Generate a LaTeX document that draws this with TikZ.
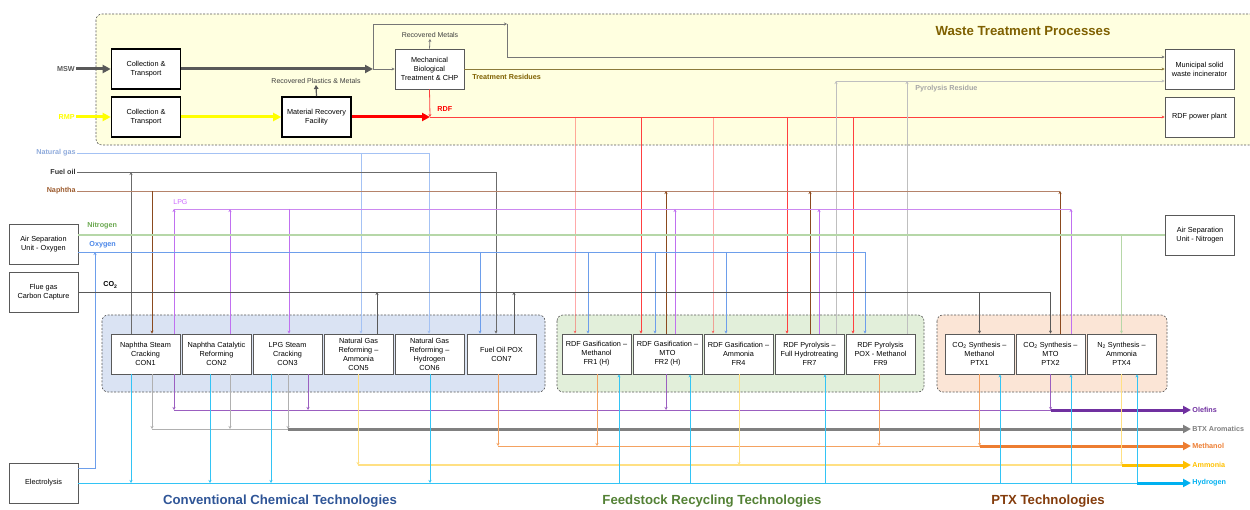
\documentclass[tikz,border=0pt]{standalone}
\usepackage{fontspec}
\setmainfont{Liberation Sans}
\usetikzlibrary{calc}
\usetikzlibrary{arrows.meta}

\definecolor{wtpfill}{HTML}{FFFFE0}
\definecolor{ccfill}{HTML}{DAE3F3}
\definecolor{frfill}{HTML}{E2EFDA}
\definecolor{ptxfill}{HTML}{FBE5D6}
\definecolor{grpline}{HTML}{595959}
\definecolor{boxline}{HTML}{595959}
\definecolor{notec}{HTML}{404040}
\definecolor{mswc}{HTML}{595959}
\definecolor{rmpc}{HTML}{FFFF00}
\definecolor{rdfc}{HTML}{FF0000}
\definecolor{rdfl}{HTML}{FF4040}
\definecolor{resc}{HTML}{7F6000}
\definecolor{resl}{HTML}{8C7B3A}
\definecolor{pyrc}{HTML}{BFBFBF}
\definecolor{pyrt}{HTML}{A6A6A6}
\definecolor{metc}{HTML}{767676}
\definecolor{ngc}{HTML}{A4C2F4}
\definecolor{ngt}{HTML}{8EAADB}
\definecolor{foc}{HTML}{6B6B6B}
\definecolor{napl}{HTML}{B5836A}
\definecolor{napc}{HTML}{8B4A1E}
\definecolor{napt}{HTML}{9C5B2E}
\definecolor{lpgl}{HTML}{CC88F0}
\definecolor{lpgc}{HTML}{C070F0}
\definecolor{lpgt}{HTML}{CC66FF}
\definecolor{n2c}{HTML}{B6D7A8}
\definecolor{n2t}{HTML}{6AA84F}
\definecolor{o2c}{HTML}{6D9EEB}
\definecolor{o2t}{HTML}{4A86E8}
\definecolor{co2c}{HTML}{595959}
\definecolor{olec}{HTML}{7030A0}
\definecolor{olel}{HTML}{9B5FC0}
\definecolor{btxc}{HTML}{808080}
\definecolor{btxl}{HTML}{B0B0B0}
\definecolor{meohc}{HTML}{ED7D31}
\definecolor{meohl}{HTML}{F4A261}
\definecolor{nh3c}{HTML}{FFC000}
\definecolor{nh3l}{HTML}{FFE083}
\definecolor{h2c}{HTML}{00B0F0}
\definecolor{h2l}{HTML}{33C4F5}
\definecolor{cctitle}{HTML}{2F5597}
\definecolor{frtitle}{HTML}{538135}
\definecolor{ptxtitle}{HTML}{843C0C}

\begin{document}
\begin{tikzpicture}[x=1pt,y=-1pt,line width=0.8pt,
    box/.style={draw=boxline,line width=0.9pt,fill=white,minimum width=69pt,
      minimum height=40pt,inner sep=1pt,align=center,font=\fontsize{7.3}{9}\selectfont},
    heavybox/.style={box,draw=black,line width=1.6pt},
    lightbox/.style={box,line width=0.7pt},
    grp/.style={draw=grpline,dash pattern=on 2pt off 1.5pt,line width=0.6pt,rounded corners=6pt},
    lbl/.style={inner sep=1pt,font=\fontsize{7.2}{8}\selectfont\bfseries},
    note/.style={inner sep=1pt,text=notec,font=\fontsize{7}{8}\selectfont},
    title/.style={inner sep=0pt,font=\fontsize{13.2}{15}\selectfont\bfseries},
    arr/.style={-{Stealth[length=3pt,width=3pt]}},
    fat/.style={line width=3pt,-{Triangle[length=8pt,width=8pt]}}]
    \useasboundingbox (0,0) rectangle (1250,510);

    % groups
    \draw[grp,fill=wtpfill] (96,14) rectangle (1262,145);
    \draw[grp,fill=ccfill] (102,315) rectangle (545,392);
    \draw[grp,fill=frfill] (557,315) rectangle (924,392);
    \draw[grp,fill=ptxfill] (937,315) rectangle (1167,392);

    \node[title,text=resc] (wtpt) at (1023,31) {Waste Treatment Processes};
    \node[title,text=cctitle] (cct) at (280,501) {Conventional Chemical Technologies};
    \node[title,text=frtitle] (frt) at (712,501) {Feedstock Recycling Technologies};
    \node[title,text=ptxtitle] (ptxt) at (1048,501) {PTX Technologies};

    % waste treatment boxes
    \node[heavybox] (col1) at (146,69) {Collection \&\\Transport};
    \node[heavybox] (col2) at (146,117) {Collection \&\\Transport};
    \node[heavybox] (mrf) at (316.5,117) {Material Recovery\\Facility};
    \node[lightbox] (mbt) at (429.5,69) {Mechanical\\Biological\\Treatment \& CHP};
    \node[lightbox] (mswi) at (1199.5,69) {Municipal solid\\waste incinerator};
    \node[lightbox] (rdfpp) at (1199.5,117) {RDF power plant};

    % utilities
    \node[lightbox] (asuo) at (43.5,244) {Air Separation\\Unit - Oxygen};
    \node[lightbox] (flue) at (43.5,292) {Flue gas\\Carbon Capture};
    \node[lightbox] (elec) at (43.5,483) {Electrolysis};
    \node[lightbox] (asun) at (1200,235) {Air Separation\\Unit - Nitrogen};

    % technologies
    \node[box] (con1) at (145.5,354) {Naphtha Steam\\Cracking\\CON1};
    \node[box] (con2) at (216.5,354) {Naphtha Catalytic\\Reforming\\CON2};
    \node[box] (con3) at (287.5,354) {LPG Steam\\Cracking\\CON3};
    \node[box] (con5) at (358.5,354) {Natural Gas\\Reforming --\\Ammonia\\CON5};
    \node[box] (con6) at (429.5,354) {Natural Gas\\Reforming --\\Hydrogen\\CON6};
    \node[box] (con7) at (501.5,354) {Fuel Oil POX\\CON7};
    \node[box] (fr1) at (596.5,354) {RDF Gasification --\\Methanol\\FR1 (H)};
    \node[box] (fr2) at (667.5,354) {RDF Gasification --\\MTO\\FR2 (H)};
    \node[box] (fr4) at (738.5,354) {RDF Gasification --\\Ammonia\\FR4};
    \node[box] (fr7) at (809.5,354) {RDF Pyrolysis --\\Full Hydrotreating\\FR7};
    \node[box] (fr9) at (880.5,354) {RDF Pyrolysis\\POX - Methanol\\FR9};
    \node[box] (ptx1) at (979.5,354) {CO\textsubscript{2} Synthesis --\\Methanol\\PTX1};
    \node[box] (ptx2) at (1050.5,354) {CO\textsubscript{2} Synthesis --\\MTO\\PTX2};
    \node[box] (ptx4) at (1121.5,354) {N\textsubscript{2} Synthesis --\\Ammonia\\PTX4};

    % waste streams
    \node[lbl,anchor=east,text=mswc] (mswl) at (76,69) {MSW};
    \node[lbl,anchor=east,text=rmpc] (rmpl) at (76,117) {RMP};
    \coordinate (split) at (373,69);
    \coordinate (bend) at (507,24);
    \coordinate (rdfj) at (430,117);
    \coordinate (pyrj) at (836,81);
    \draw[fat,mswc] (mswl) -- (col1);
    \draw[fat,rmpc] (rmpl) -- (col2);
    \draw[fat,mswc] (col1) -- (split);
    \draw[metc,arr] (split) -- (mbt);
    \draw[metc,arr] (split) |- (bend);
    \draw[metc,arr] (bend) |- ([yshift=12pt]mswi.west);
    \node[note] (recm) at (430,35) {Recovered Metals};
    \draw[metc,arr] (mbt.north) -- (recm.south);
    \node[note] (recpm) at (316,81) {Recovered Plastics \& Metals};
    \draw[line width=1.2pt,mswc,-{Triangle[length=4pt,width=4.5pt]}] (mrf.north) -- (recpm.south);
    \draw[resl,arr] (mbt.east) -- (mswi.west);
    \node[lbl,anchor=west,text=resc] (trlbl) at (471,77) {Treatment Residues};
    \draw[fat,rmpc] (col2) -- (mrf);
    \draw[fat,rdfc] (mrf) -- (rdfj);
    \draw[rdfl,arr] (mbt.south) -- (rdfj);
    \draw[rdfl,arr] (rdfj) -- (rdfpp);
    \node[lbl,anchor=west,text=rdfc] (rdflbl) at (436,109) {RDF};
    \foreach \x/\n/\o in {575/fr1/0.45,641/fr2/1,713/fr4/0.45,787/fr7/1,853/fr9/1}
        \draw[rdfl,arr,draw opacity=\o] (\x,0 |- rdfj) -- (\x,0 |- \n.north);
    \draw[pyrc,arr] (pyrj |- fr7.north) -- (pyrj);
    \draw[pyrc,arr] (907,0 |- fr9.north) -- (907,0 |- pyrj);
    \draw[pyrc,arr] (pyrj) -- ([yshift=-12pt]mswi.west);
    \node[lbl,anchor=west,text=pyrt] (pyrlbl) at (914,89) {Pyrolysis Residue};

    % feed lines
    \node[lbl,anchor=east,text=ngt] (nglbl) at (77,153) {Natural gas};
    \coordinate (ngend) at (429,153);
    \draw[ngc] (nglbl) -- (ngend);
    \foreach \x/\n in {361/con5,429/con6}
        \draw[ngc,arr] (\x,0 |- ngend) -- (\x,0 |- \n.north);

    \node[lbl,anchor=east,text=black!80] (folbl) at (77,172) {Fuel oil};
    \coordinate (foend) at (496,172);
    \draw[foc] (folbl) -- (foend);
    \draw[foc,arr] (foend) -- (foend |- con7.north);
    \draw[foc,arr] (131,0 |- con1.north) -- (131,0 |- foend);

    \node[lbl,anchor=east,text=napt] (naplbl) at (77,191) {Naphtha};
    \coordinate (napend) at (1060,191);
    \draw[napl] (naplbl) -- (napend);
    \draw[napc,arr] (152,0 |- napend) -- (152,0 |- con1.north);
    \foreach \x/\n in {666/fr2,810/fr7,1060/ptx2}
        \draw[napc,arr] (\x,0 |- \n.north) -- (\x,0 |- napend);

    \coordinate (lpgst) at (174,209);
    \coordinate (lpgend) at (1071,209);
    \node[note,anchor=south west,text=lpgt] (lpglbl) at (172,206) {LPG};
    \draw[lpgl] (lpgst) -- (lpgend);
    \foreach \x/\n in {174/con1,230/con2,675/fr2,819/fr7,1071/ptx2}
        \draw[lpgc,arr] (\x,0 |- \n.north) -- (\x,0 |- lpgst);
    \draw[lpgc,arr] (289,0 |- lpgst) -- (289,0 |- con3.north);

    \node[lbl,anchor=west,text=n2t] (n2lbl) at (86,226) {Nitrogen};
    \draw[n2c,line width=1.6pt] ([yshift=9pt]asuo.east) -- (asun.west);
    \draw[n2c,arr] (ptx4.north |- asun.west) -- (ptx4.north);

    \node[lbl,anchor=west,text=o2t] (o2lbl) at (88,245) {Oxygen};
    \coordinate (o2end) at (865,252);
    \draw[o2c] ([yshift=-8pt]asuo.east) -- (o2end);
    \foreach \x/\n in {480/con7,588/fr1,655/fr2,726/fr4,865/fr9}
        \draw[o2c,arr] (\x,0 |- o2end) -- (\x,0 |- \n.north);
    \draw[o2c,arr] ([yshift=15pt]elec.east) -| (95,0 |- o2end);

    \node[lbl,anchor=west] (co2lbl) at (102,285) {CO\textsubscript{2}};
    \coordinate (co2end) at (ptx2.north |- flue.east);
    \draw[co2c] (flue.east) -- (co2end);
    \foreach \x/\n in {377/con5,514/con7}
        \draw[co2c,arr] (\x,0 |- \n.north) -- (\x,0 |- co2end);
    \draw[co2c,arr] (ptx1.north |- co2end) -- (ptx1.north);
    \draw[co2c,arr] (co2end) -- (ptx2.north);

    % product lines
    \node[lbl,anchor=west,text=olec] (olelbl) at (1191,410) {Olefins};
    \node[lbl,anchor=west,text=btxc] (btxlbl) at (1191,429) {BTX Aromatics};
    \node[lbl,anchor=west,text=meohc] (meohlbl) at (1191,446) {Methanol};
    \node[lbl,anchor=west,text=nh3c] (nh3lbl) at (1191,465) {Ammonia};
    \node[lbl,anchor=west,text=h2c] (h2lbl) at (1191,483) {Hydrogen};

    \draw[olel] (174,0 |- olelbl) -- (ptx2.south |- olelbl);
    \foreach \x/\n in {174/con1,308/con3,666/fr2,1050.5/ptx2}
        \draw[olel,arr] (\x,0 |- \n.south) -- (\x,0 |- olelbl);
    \draw[fat,olec] (ptx2.south |- olelbl) -- (olelbl);

    \draw[btxl] (152,0 |- btxlbl) -- (288,0 |- btxlbl);
    \foreach \x/\n in {152/con1,230/con2,288/con3}
        \draw[btxl,arr] (\x,0 |- \n.south) -- (\x,0 |- btxlbl);
    \draw[fat,btxc] (288,0 |- btxlbl) -- (btxlbl);

    \draw[meohl] (498,0 |- meohlbl) -- (ptx1.south |- meohlbl);
    \foreach \x/\n in {498/con7,597/fr1,879/fr9,979.5/ptx1}
        \draw[meohl,arr] (\x,0 |- \n.south) -- (\x,0 |- meohlbl);
    \draw[fat,meohc] (ptx1.south |- meohlbl) -- (meohlbl);

    \draw[nh3l,line width=1.6pt] (358,0 |- nh3lbl) -- (ptx4.south |- nh3lbl);
    \foreach \x/\n in {358/con5,739/fr4,1121.5/ptx4}
        \draw[nh3l,arr] (\x,0 |- \n.south) -- (\x,0 |- nh3lbl);
    \draw[fat,nh3c] (ptx4.south |- nh3lbl) -- (nh3lbl);

    \draw[h2l] (elec.east) -- (1137,0 |- elec.east);
    \foreach \x/\n in {131/con1,210/con2,271/con3,430/con6}
        \draw[h2l,arr] (\x,0 |- \n.south) -- (\x,0 |- elec.east);
    \foreach \x/\n in {619/fr1,690/fr2,825/fr7,1000/ptx1,1071/ptx2,1137/ptx4}
        \draw[h2l,arr] (\x,0 |- elec.east) -- (\x,0 |- \n.south);
    \draw[fat,h2c] (1137,0 |- elec.east) -- (h2lbl);
\end{tikzpicture}
\end{document}
